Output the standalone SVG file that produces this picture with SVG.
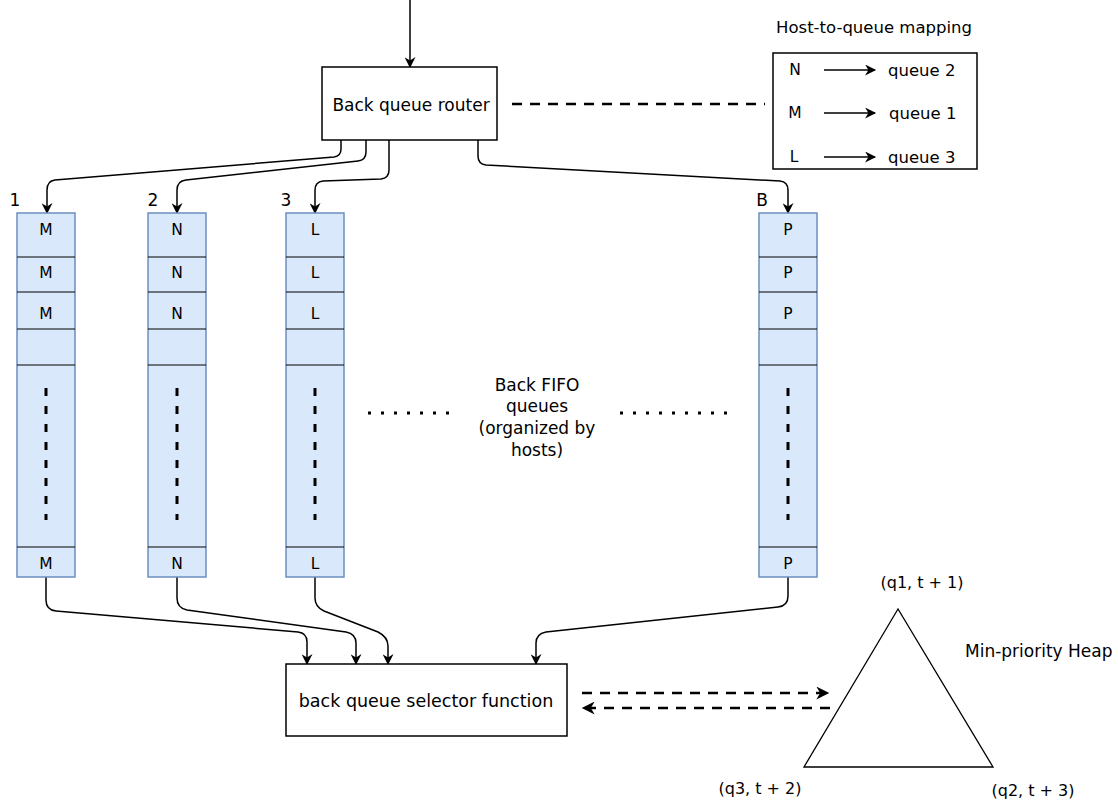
<svg xmlns="http://www.w3.org/2000/svg" width="1118" height="800" viewBox="0 0 1118 800">
<defs>
<style>
text{font-family:"DejaVu Sans","Liberation Sans",sans-serif;fill:#000;}
.box{fill:#fff;stroke:#000;stroke-width:1.5;}
.q{fill:#dae8fc;stroke:#6c8ebf;stroke-width:1.5;}
.div{stroke:#000;stroke-width:1.2;}
.vd{stroke:#000;stroke-width:3;stroke-dasharray:8 10;fill:none;}
.hd{stroke:#000;stroke-width:3;stroke-dasharray:3 10;fill:none;}
.edge{fill:none;stroke:#000;stroke-width:1.5;}
.dash{fill:none;stroke:#000;stroke-width:2.5;stroke-dasharray:10 8;}
.lbl{font-size:15.5px;text-anchor:middle;dominant-baseline:central;}
.t16{font-size:17px;text-anchor:middle;dominant-baseline:central;}
.mid{font-size:17px;text-anchor:middle;dominant-baseline:central;}
.qt{font-size:16.5px;dominant-baseline:central;}
.num{font-size:17px;text-anchor:middle;dominant-baseline:central;}
</style>
<marker id="arr" viewBox="0 0 10 10" refX="9" refY="5" markerWidth="12" markerHeight="11" markerUnits="userSpaceOnUse" orient="auto">
<path d="M0,0 L10,5 L0,10 L3,5 z" fill="#000"/>
</marker>
<marker id="arrBig" viewBox="0 0 10 10" refX="9" refY="5" markerWidth="15" markerHeight="13" markerUnits="userSpaceOnUse" orient="auto">
<path d="M0,0 L10,5 L0,10 L3,5 z" fill="#000"/>
</marker>
</defs>

<g id="connectors">
<line class="edge" x1="410" y1="0" x2="410" y2="67" marker-end="url(#arr)"/>
<line class="dash" x1="512" y1="104" x2="765" y2="104"/>
<path class="edge" d="M341,140 L341,149 Q341,156 334,157 L55,180 Q47,181 47,190 L47,213" marker-end="url(#arr)"/>
<path class="edge" d="M366,140 L366,152 Q366,160 358,161 L186,180 Q177,181 177,190 L177,213" marker-end="url(#arr)"/>
<path class="edge" d="M389,140 L389,170 Q389,178 381,179 L323,181 Q315,182 315,190 L315,213" marker-end="url(#arr)"/>
<path class="edge" d="M478,140 L478,156 Q478,164 486,165 L780,181 Q788,182 788,190 L788,213" marker-end="url(#arr)"/>
<path class="edge" d="M46,577 L46,600 Q46,610 56,611 L298,632 Q307,633 307,642 L307,664" marker-end="url(#arr)"/>
<path class="edge" d="M177,577 L177,598 Q177,608 187,610 L346,632 Q356,634 356,643 L356,664" marker-end="url(#arr)"/>
<path class="edge" d="M315,577 L315,598 Q315,607 324,611 L378,632 Q388,637 388,646 L388,664" marker-end="url(#arr)"/>
<path class="edge" d="M788,577 L788,596 Q788,606 778,607 L546,632 Q536,634 536,643 L536,664" marker-end="url(#arr)"/>
<line class="dash" x1="582" y1="693" x2="828" y2="693" marker-end="url(#arrBig)"/>
<line class="dash" x1="830" y1="708" x2="583" y2="708" marker-end="url(#arrBig)"/>
</g>

<g id="router">
<rect class="box" x="322" y="67" width="175" height="73"/>
<text class="t16" x="411" y="105">Back queue router</text>
</g>

<g id="mapping">
<text class="t16" x="874" y="27" style="font-size:16.5px">Host-to-queue mapping</text>
<rect class="box" x="773" y="53" width="204" height="116"/>
<text class="lbl" x="795" y="70">N</text>
<text class="lbl" x="795" y="113">M</text>
<text class="lbl" x="794" y="157">L</text>
<line class="edge" x1="824" y1="70" x2="875" y2="70" marker-end="url(#arr)"/>
<line class="edge" x1="824" y1="113" x2="875" y2="113" marker-end="url(#arr)"/>
<line class="edge" x1="824" y1="157" x2="875" y2="157" marker-end="url(#arr)"/>
<text class="qt" x="888" y="70">queue 2</text>
<text class="qt" x="889" y="113">queue 1</text>
<text class="qt" x="888" y="157">queue 3</text>
</g>

<g id="queue1">
<text class="num" x="15" y="200">1</text>
<rect class="q" x="17" y="213" width="58" height="364"/>
<line class="div" x1="17" y1="257" x2="75" y2="257"/>
<line class="div" x1="17" y1="292" x2="75" y2="292"/>
<line class="div" x1="17" y1="329" x2="75" y2="329"/>
<line class="div" x1="17" y1="365" x2="75" y2="365"/>
<line class="div" x1="17" y1="547" x2="75" y2="547"/>
<text class="lbl" x="46" y="230">M</text>
<text class="lbl" x="46" y="273">M</text>
<text class="lbl" x="46" y="314">M</text>
<text class="lbl" x="46" y="564">M</text>
<line class="vd" x1="46" y1="388" x2="46" y2="520"/>
</g>

<g id="queue2">
<text class="num" x="153" y="200">2</text>
<rect class="q" x="148" y="213" width="58" height="364"/>
<line class="div" x1="148" y1="257" x2="206" y2="257"/>
<line class="div" x1="148" y1="292" x2="206" y2="292"/>
<line class="div" x1="148" y1="329" x2="206" y2="329"/>
<line class="div" x1="148" y1="365" x2="206" y2="365"/>
<line class="div" x1="148" y1="547" x2="206" y2="547"/>
<text class="lbl" x="177" y="230">N</text>
<text class="lbl" x="177" y="273">N</text>
<text class="lbl" x="177" y="314">N</text>
<text class="lbl" x="177" y="564">N</text>
<line class="vd" x1="177" y1="388" x2="177" y2="520"/>
</g>

<g id="queue3">
<text class="num" x="286" y="200">3</text>
<rect class="q" x="286" y="213" width="58" height="364"/>
<line class="div" x1="286" y1="257" x2="344" y2="257"/>
<line class="div" x1="286" y1="292" x2="344" y2="292"/>
<line class="div" x1="286" y1="329" x2="344" y2="329"/>
<line class="div" x1="286" y1="365" x2="344" y2="365"/>
<line class="div" x1="286" y1="547" x2="344" y2="547"/>
<text class="lbl" x="315" y="230">L</text>
<text class="lbl" x="315" y="273">L</text>
<text class="lbl" x="315" y="314">L</text>
<text class="lbl" x="315" y="564">L</text>
<line class="vd" x1="315" y1="388" x2="315" y2="520"/>
</g>

<g id="queueB">
<text class="num" x="762" y="200">B</text>
<rect class="q" x="759" y="213" width="58" height="364"/>
<line class="div" x1="759" y1="257" x2="817" y2="257"/>
<line class="div" x1="759" y1="292" x2="817" y2="292"/>
<line class="div" x1="759" y1="329" x2="817" y2="329"/>
<line class="div" x1="759" y1="365" x2="817" y2="365"/>
<line class="div" x1="759" y1="547" x2="817" y2="547"/>
<text class="lbl" x="788" y="230">P</text>
<text class="lbl" x="788" y="273">P</text>
<text class="lbl" x="788" y="314">P</text>
<text class="lbl" x="788" y="564">P</text>
<line class="vd" x1="788" y1="388" x2="788" y2="520"/>
</g>

<g id="fifo-label">
<line class="hd" x1="368" y1="413" x2="452" y2="413"/>
<line class="hd" x1="620" y1="413" x2="728" y2="413"/>
<text class="mid" x="537" y="385">Back FIFO</text>
<text class="mid" x="537" y="406">queues</text>
<text class="mid" x="537" y="428">(organized by</text>
<text class="mid" x="537" y="450">hosts)</text>
</g>

<g id="selector">
<rect class="box" x="286" y="664" width="281" height="72"/>
<text class="t16" x="426" y="701" style="font-size:17.5px">back queue selector function</text>
</g>

<g id="heap">
<polygon points="898,609 804,767 993,767" fill="#fff" stroke="#000" stroke-width="1.3"/>
<text class="mid" x="922" y="582" style="font-size:16px">(q1, t + 1)</text>
<text x="965" y="651" style="font-size:17px;dominant-baseline:central">Min-priority Heap</text>
<text class="mid" x="760" y="788" style="font-size:16px">(q3, t + 2)</text>
<text class="mid" x="1033" y="790" style="font-size:16px">(q2, t + 3)</text>
</g>
</svg>
